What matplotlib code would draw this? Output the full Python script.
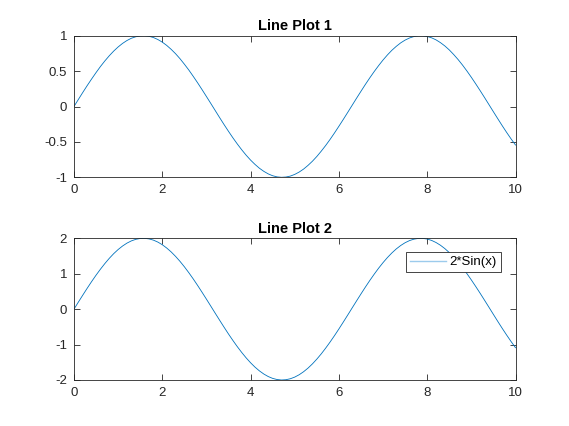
import matplotlib
matplotlib.use("Agg")
import matplotlib.pyplot as plt

# values (step 0.1 on x)
x = [0.0, 0.1, 0.2, 0.3, 0.4, 0.5, 0.6, 0.7, 0.8, 0.9,
     1.0, 1.1, 1.2, 1.3, 1.4, 1.5, 1.6, 1.7, 1.8, 1.9,
     2.0, 2.1, 2.2, 2.3, 2.4, 2.5, 2.6, 2.7, 2.8, 2.9,
     3.0, 3.1, 3.2, 3.3, 3.4, 3.5, 3.6, 3.7, 3.8, 3.9,
     4.0, 4.1, 4.2, 4.3, 4.4, 4.5, 4.6, 4.7, 4.8, 4.9,
     5.0, 5.1, 5.2, 5.3, 5.4, 5.5, 5.6, 5.7, 5.8, 5.9,
     6.0, 6.1, 6.2, 6.3, 6.4, 6.5, 6.6, 6.7, 6.8, 6.9,
     7.0, 7.1, 7.2, 7.3, 7.4, 7.5, 7.6, 7.7, 7.8, 7.9,
     8.0, 8.1, 8.2, 8.3, 8.4, 8.5, 8.6, 8.7, 8.8, 8.9,
     9.0, 9.1, 9.2, 9.3, 9.4, 9.5, 9.6, 9.7, 9.8, 9.9, 10.0]
y1 = [0.000, 0.100, 0.199, 0.296, 0.389, 0.479, 0.565, 0.644, 0.717, 0.783,
      0.841, 0.891, 0.932, 0.964, 0.985, 0.997, 1.000, 0.992, 0.974, 0.946,
      0.909, 0.863, 0.808, 0.746, 0.676, 0.598, 0.516, 0.427, 0.335, 0.239,
      0.141, 0.042, -0.058, -0.158, -0.256, -0.351, -0.443, -0.530, -0.612, -0.688,
      -0.757, -0.818, -0.872, -0.916, -0.952, -0.978, -0.994, -1.000, -0.996, -0.983,
      -0.959, -0.926, -0.884, -0.832, -0.773, -0.706, -0.631, -0.551, -0.465, -0.374,
      -0.279, -0.182, -0.083, 0.017, 0.117, 0.215, 0.312, 0.405, 0.494, 0.578,
      0.657, 0.729, 0.794, 0.850, 0.899, 0.938, 0.968, 0.988, 0.999, 0.999,
      0.989, 0.970, 0.941, 0.902, 0.855, 0.799, 0.734, 0.663, 0.585, 0.501,
      0.412, 0.319, 0.223, 0.125, 0.025, -0.075, -0.174, -0.272, -0.367, -0.458, -0.544]
y2 = [0.000, 0.200, 0.397, 0.591, 0.779, 0.959, 1.129, 1.288, 1.435, 1.567,
      1.683, 1.782, 1.864, 1.927, 1.971, 1.995, 1.999, 1.983, 1.948, 1.893,
      1.819, 1.726, 1.617, 1.491, 1.351, 1.197, 1.031, 0.855, 0.670, 0.478,
      0.282, 0.083, -0.117, -0.315, -0.511, -0.702, -0.885, -1.060, -1.224, -1.376,
      -1.514, -1.637, -1.743, -1.832, -1.903, -1.955, -1.987, -2.000, -1.992, -1.965,
      -1.918, -1.852, -1.767, -1.665, -1.546, -1.411, -1.263, -1.101, -0.929, -0.748,
      -0.559, -0.364, -0.166, 0.034, 0.233, 0.430, 0.623, 0.810, 0.988, 1.157,
      1.314, 1.458, 1.587, 1.701, 1.797, 1.876, 1.936, 1.976, 1.997, 1.998,
      1.979, 1.940, 1.881, 1.804, 1.709, 1.597, 1.469, 1.326, 1.170, 1.002,
      0.824, 0.638, 0.446, 0.249, 0.050, -0.150, -0.349, -0.544, -0.733, -0.915, -1.088]

titles = ["Line Plot 1", "Line Plot 2"]
legend_label = "2*Sin(x)"
yticks1 = [-1, -0.5, 0, 0.5, 1]
yticks2 = [-2, -1, 0, 1, 2]
xticks = [0, 2, 4, 6, 8, 10]

plt.rcParams["font.family"] = ["Liberation Sans", "DejaVu Sans"]
plt.rcParams["axes.unicode_minus"] = False

line_color = "#0072BD"
axis_color = "#262626"

fig = plt.figure(figsize=(5.69, 4.26), dpi=100)
ax1 = fig.add_axes([0.130, 0.5838, 0.776, 0.3324])
ax2 = fig.add_axes([0.130, 0.108, 0.776, 0.3326])


def style(ax, yticks, ylim, title):
    ax.set_xlim(0, 10)
    ax.set_ylim(*ylim)
    ax.set_xticks(xticks)
    ax.set_xticklabels([f"{v:g}" for v in xticks])
    ax.set_yticks(yticks)
    ax.set_yticklabels([f"{v:g}" for v in yticks])
    ax.tick_params(direction="in", length=4, width=0.6, colors=axis_color,
                   labelsize=9.5, top=True, right=True, pad=5)
    for s in ax.spines.values():
        s.set_color(axis_color)
        s.set_linewidth(0.6)
    ax.set_title(title, fontsize=10.5, fontweight="bold", color="black", pad=4)


ax1.plot(x, y1, color=line_color, linewidth=0.6)
style(ax1, yticks1, (-1, 1), titles[0])

ax2.plot(x, y2, color=line_color, linewidth=0.6, label=legend_label)
style(ax2, yticks2, (-2, 2), titles[1])
leg = ax2.legend(loc="upper right", bbox_to_anchor=(0.967, 0.903), borderaxespad=0,
                 fontsize=9.5, fancybox=False, framealpha=1, edgecolor=axis_color,
                 handlelength=2.7, handletextpad=0.3, borderpad=0.3)
leg.get_frame().set_linewidth(0.6)
leg_line = leg.get_lines()[0]
leg_line.set_color("#9ccbec")
leg_line.set_linewidth(1.0)

fig.savefig("out.png", dpi=100)
